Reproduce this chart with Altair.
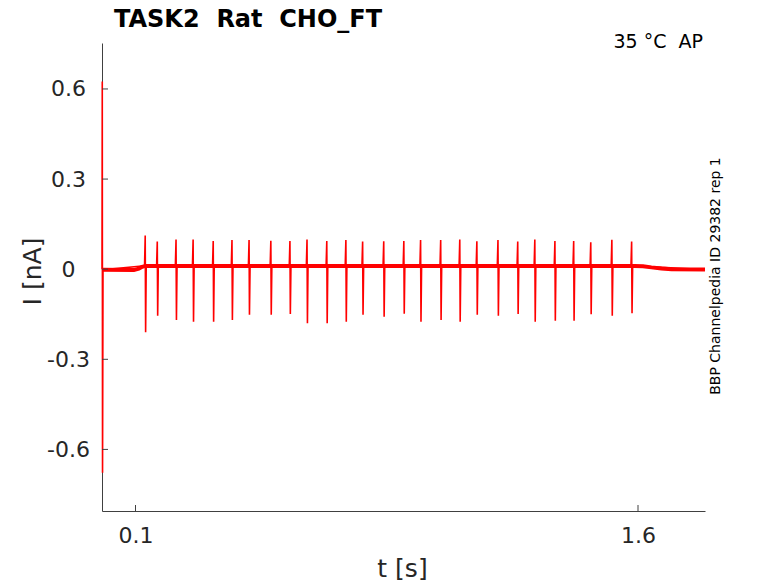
import altair as alt
import pandas as pd

# ---- data ----
spike_t = [0.129, 0.165, 0.221, 0.272, 0.332, 0.388, 0.439, 0.504, 0.561, 0.612,
           0.671, 0.728, 0.778, 0.841, 0.901, 0.951, 1.011, 1.068, 1.119, 1.182,
           1.241, 1.292, 1.352, 1.408, 1.459, 1.522, 1.581]
spike_top = [0.112, 0.092, 0.099, 0.099, 0.094, 0.097, 0.097, 0.095, 0.094, 0.099,
             0.094, 0.097, 0.092, 0.093, 0.094, 0.097, 0.097, 0.099, 0.093, 0.097,
             0.092, 0.099, 0.094, 0.094, 0.090, 0.098, 0.092]
spike_bottom = [-0.210, -0.155, -0.169, -0.175, -0.175, -0.169, -0.152, -0.152, -0.149, -0.180,
                -0.180, -0.175, -0.152, -0.158, -0.148, -0.175, -0.169, -0.175, -0.152, -0.155,
                -0.149, -0.175, -0.172, -0.172, -0.150, -0.155, -0.147]
plateau = 0.011

base_t = [0.0, 0.095, 0.110, 0.120, 0.130, 0.60, 1.10, 1.59, 1.615, 1.64, 1.67, 1.70, 1.80]
base_I = [-0.002, -0.003, 0.002, 0.008, 0.011, 0.011, 0.011, 0.011, 0.010, 0.006, 0.002, 0.000, -0.001]

trans_t = [0.0, 0.0008, 0.0016, 0.003]
trans_I = [0.0, 0.625, -0.678, -0.002]

x_ticks = [0.1, 1.6]
y_ticks = [-0.6, -0.3, 0.0, 0.3, 0.6]

title_text = "TASK2\u00a0\u00a0Rat\u00a0\u00a0CHO_FT"
temp_text = "35 \u00b0C\u00a0\u00a0AP"
side_text = "BBP Channelpedia ID 29382 rep 1"

# ---- build tables ----
rows = []
for t, v in zip(trans_t, trans_I):
    rows.append((t, v))
for t, top, bot in zip(spike_t, spike_top, spike_bottom):
    rows += [(t - 0.002, plateau), (t, top), (t + 0.0012, bot), (t + 0.003, plateau)]
rows.append((base_t[-1], base_I[-1]))
trace = pd.DataFrame(rows, columns=["t", "I"])
trace["k"] = range(len(trace))

base = pd.DataFrame({"t": base_t, "I": base_I})

FONT = "DejaVu Sans"
TXT = "#262626"
AX = "#404040"

xs = alt.Scale(domain=[0, 1.8], nice=False, zero=False)
ys = alt.Scale(domain=[-0.805, 0.753], nice=False, zero=False)

x_axis = alt.Axis(values=x_ticks, format=".1f", ticks=False, grid=False, domain=True,
                  labelPadding=31, labelBaseline="alphabetic",
                  titleX=300, titleY=65, titleBaseline="alphabetic",
                  titleAlign="center", titleFontSize=25)
y_axis = alt.Axis(values=y_ticks, ticks=False, grid=False, domain=True,
                  labelExpr="datum.value < 0 ? '-' + format(-datum.value, '.1~f') : format(datum.value, '.1~f')",
                  labelAlign="center", labelPadding=34, labelBaseline="middle",
                  titleX=-70, titleY=228, titleAngle=270, titleAlign="center",
                  titleBaseline="middle", titleFontSize=25)

line = alt.Chart(trace).mark_line(color="#ff0000", strokeWidth=1.6).encode(
    x=alt.X("t:Q", scale=xs, title="t [s]", axis=x_axis),
    y=alt.Y("I:Q", scale=ys, title="I [nA]", axis=y_axis),
    order="k:Q",
)

band = alt.Chart(base).mark_line(color="#ff0000", strokeWidth=4).encode(
    x=alt.X("t:Q", scale=xs, title="t [s]", axis=x_axis),
    y=alt.Y("I:Q", scale=ys, title="I [nA]", axis=y_axis),
)

xt = alt.Chart(pd.DataFrame({"t": x_ticks})).mark_rule(color=AX, strokeWidth=1).encode(
    x=alt.X("t:Q", scale=xs, title="t [s]", axis=x_axis), y=alt.value(468), y2=alt.value(462))
yt = alt.Chart(pd.DataFrame({"I": y_ticks})).mark_rule(color=AX, strokeWidth=1).encode(
    y=alt.Y("I:Q", scale=ys, title="I [nA]", axis=y_axis), x=alt.value(0), x2=alt.value(6))

title = alt.Chart(pd.DataFrame({"s": [title_text]})).mark_text(
    font=FONT, fontSize=24, fontWeight="bold", color="black", align="left",
    baseline="alphabetic").encode(text="s:N", x=alt.value(12), y=alt.value(-16))
temp = alt.Chart(pd.DataFrame({"s": [temp_text]})).mark_text(
    font=FONT, fontSize=19, color="black", align="right",
    baseline="alphabetic").encode(text="s:N", x=alt.value(601), y=alt.value(5))
side = alt.Chart(pd.DataFrame({"s": [side_text]})).mark_text(
    font=FONT, fontSize=14, color="black", align="center", baseline="middle",
    angle=270).encode(text="s:N", x=alt.value(614), y=alt.value(233))

chart = alt.layer(line, band, xt, yt, title, temp, side).properties(
    width=603, height=468,
    padding={"left": 94, "top": 35, "right": 60, "bottom": 74},
    autosize=alt.AutoSizeParams(type="none"),
).configure_view(stroke=None).configure_axis(
    domainColor=AX, domainWidth=1, labelFont=FONT, labelFontSize=22, labelColor=TXT,
    titleFont=FONT, titleColor=TXT, titleFontWeight="normal",
)

chart.save("out.html", embed_options={"renderer": "svg", "actions": False})
